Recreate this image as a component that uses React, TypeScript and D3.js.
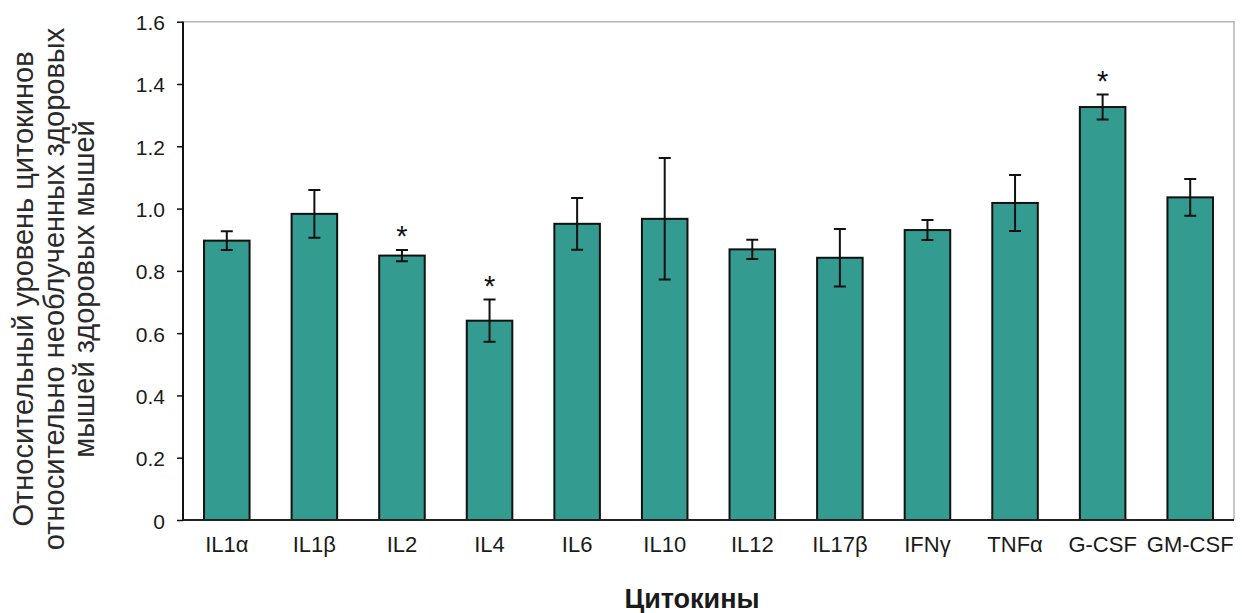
import { useEffect, useRef } from 'react'
import * as d3 from 'd3'

const categories = ['IL1α', 'IL1β', 'IL2', 'IL4', 'IL6', 'IL10', 'IL12', 'IL17β', 'IFNγ', 'TNFα', 'G-CSF', 'GM-CSF']
const means = [0.897, 0.983, 0.849, 0.64, 0.951, 0.967, 0.869, 0.842, 0.931, 1.018, 1.326, 1.036]
const errors = [0.03, 0.077, 0.018, 0.068, 0.083, 0.195, 0.031, 0.092, 0.032, 0.09, 0.04, 0.059]
const significant = [false, false, true, true, false, false, false, false, false, false, true, false]
const yTicks = [0, 0.2, 0.4, 0.6, 0.8, 1.0, 1.2, 1.4, 1.6]
const yTickLabels = ['0', '0.2', '0.4', '0.6', '0.8', '1.0', '1.2', '1.4', '1.6']
const yTitleLines = [
  'Относительный уровень цитокинов',
  'относительно необлученных здоровых',
  'мышей здоровых мышей',
]
const xTitle = 'Цитокины'

export default function App() {
  const ref = useRef<SVGSVGElement>(null)

  useEffect(() => {
    const width = 1242
    const height = 613
    const left = 183
    const right = 1234
    const top = 21.7
    const bottom = 520
    const font = 'Liberation Sans, Arial, sans-serif'

    const svg = d3.select(ref.current)
    svg.selectAll('*').remove()
    svg.attr('width', width).attr('height', height)

    svg.append('rect').attr('width', width).attr('height', height).attr('fill', '#ffffff')

    const x = d3.scaleBand().domain(categories).range([left, right]).paddingInner(0.48).paddingOuter(0.24)
    const y = d3.scaleLinear().domain([0, 1.6]).range([bottom, top])

    const data = categories.map((c, i) => ({ c, v: means[i], e: errors[i], s: significant[i] }))

    // plot area frame (top and right, grey)
    svg.append('path')
      .attr('d', `M${left},${top}H${right}V${bottom}`)
      .attr('fill', 'none')
      .attr('stroke', '#b4b4b4')
      .attr('stroke-width', 1.5)

    // bars
    svg.selectAll('rect.bar')
      .data(data)
      .enter().append('rect')
      .attr('class', 'bar')
      .attr('x', d => x(d.c)!)
      .attr('y', d => y(d.v))
      .attr('width', x.bandwidth())
      .attr('height', d => bottom - y(d.v))
      .attr('fill', '#349b90')
      .attr('stroke', '#111')
      .attr('stroke-width', 2)

    // error bars
    const err = svg.append('g').attr('stroke', '#111').attr('stroke-width', 2).attr('fill', 'none')
    data.forEach(d => {
      const cx = x(d.c)! + x.bandwidth() / 2
      const y1 = y(d.v + d.e)
      const y0 = y(d.v - d.e)
      err.append('path').attr('d', `M${cx},${y0}V${y1}M${cx - 6},${y1}H${cx + 6}M${cx - 6},${y0}H${cx + 6}`)
    })

    // significance marks
    svg.selectAll('text.star')
      .data(data.filter(d => d.s))
      .enter().append('text')
      .attr('class', 'star')
      .attr('x', d => x(d.c)! + x.bandwidth() / 2)
      .attr('y', d => y(d.v + d.e) - 4)
      .attr('text-anchor', 'middle')
      .attr('font-family', font)
      .attr('font-size', 29)
      .attr('fill', '#111')
      .text('*')

    // y axis
    const yAxis = svg.append('g')
      .attr('transform', `translate(${left},0)`)
      .call(d3.axisLeft(y).tickValues(yTicks).tickSize(6).tickPadding(12)
        .tickFormat((d, i) => yTickLabels[i]))
    yAxis.select('.domain').attr('stroke', '#111').attr('stroke-width', 2).attr('d', `M0,${top}V${bottom}`)
    yAxis.selectAll('.tick line').attr('stroke', '#111').attr('stroke-width', 1.5)
    yAxis.selectAll('.tick text')
      .attr('font-family', font)
      .attr('font-size', 21)
      .attr('fill', '#1a1a1a')
      .attr('dy', 8)

    // x axis
    const xAxis = svg.append('g')
      .attr('transform', `translate(0,${bottom})`)
      .call(d3.axisBottom(x).tickSize(0).tickPadding(10))
    xAxis.select('.domain').attr('stroke', '#222').attr('stroke-width', 2).attr('d', `M${left},0H${right}`)
    xAxis.selectAll('.tick text')
      .attr('font-family', font)
      .attr('font-size', 22)
      .attr('fill', '#1a1a1a')
      .attr('y', 0)
      .attr('dy', 32)

    // axis titles
    svg.append('text')
      .attr('x', 692)
      .attr('y', 608)
      .attr('text-anchor', 'middle')
      .attr('font-family', font)
      .attr('font-size', 27)
      .attr('font-weight', 'bold')
      .attr('fill', '#1a1a1a')
      .text(xTitle)

    yTitleLines.forEach((line, i) => {
      svg.append('text')
        .attr('transform', `translate(${33 + i * 30.5},289) rotate(-90)`)
        .attr('text-anchor', 'middle')
        .attr('font-family', font)
        .attr('font-size', 29)
        .attr('fill', '#2a2a2a')
        .text(line)
    })
  }, [])

  return (
    <svg ref={ref} style={{ position: 'absolute', left: 0, top: 0, display: 'block' }} />
  )
}
